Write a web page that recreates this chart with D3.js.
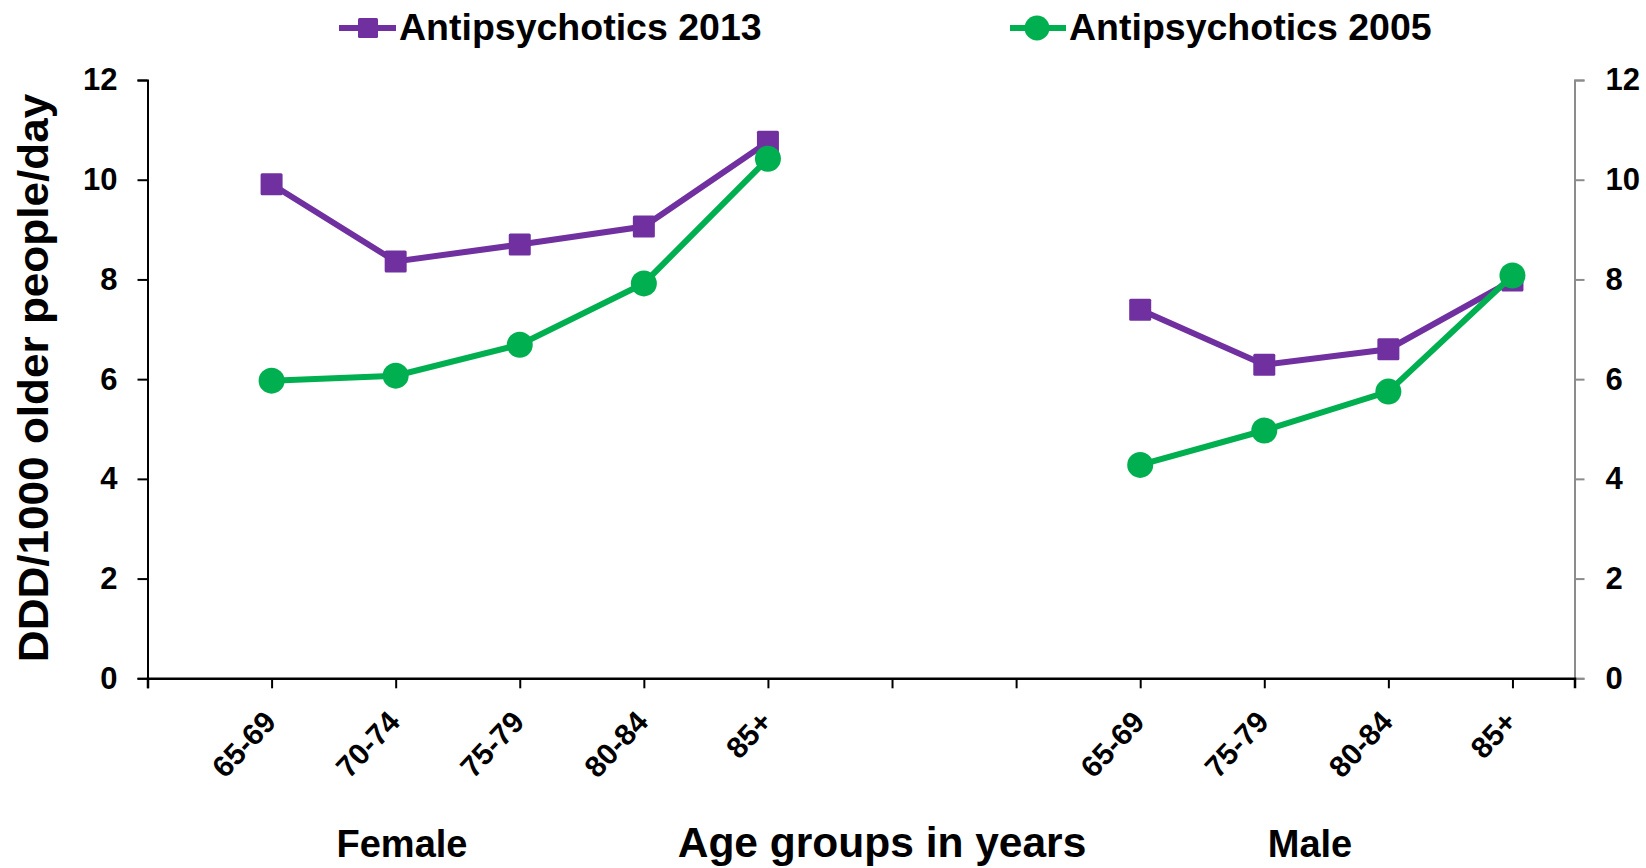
<!DOCTYPE html>
<html>
<head>
<meta charset="utf-8">
<script src="https://cdn.jsdelivr.net/npm/d3@7"></script>
<style>
  html, body { margin: 0; padding: 0; background: #fff; }
  svg { display: block; font-family: "Liberation Sans", Arial, sans-serif; font-weight: bold; }
</style>
</head>
<body>
<svg id="chart" width="1646" height="868"></svg>
<script>
// Age-group slots along the x axis; the two empty slots separate the sexes.
const categories = ["65-69", "70-74", "75-79", "80-84", "85+", "", "", "65-69", "75-79", "80-84", "85+"];
const groupLabels = ["Female", "Male"];
const seriesNames = ["Antipsychotics 2013", "Antipsychotics 2005"];
// DDD per 1000 older people per day (null = no value in that slot)
const values2013 = [9.91, 8.36, 8.70, 9.06, 10.76, null, null, 7.39, 6.29, 6.60, 7.98];
const values2005 = [5.97, 6.07, 6.69, 7.92, 10.42, null, null, 4.28, 4.97, 5.75, 8.08];
const yTicks = [0, 2, 4, 6, 8, 10, 12];

const svg = d3.select("#chart");
const purple = "#7030A0", green = "#00B050";
const FONT = "Liberation Sans, Arial, sans-serif";

const x = d3.scaleLinear().domain([0, categories.length + 0.5]).range([147.5, 1574.5]);
const y = d3.scaleLinear().domain([0, 12]).range([678.3, 80]);

function styleTicks(g, color) {
  g.selectAll(".tick text").attr("fill", "#000").attr("font-size", 31)
    .attr("font-family", FONT).attr("font-weight", "bold");
}

// Left value axis
const left = svg.append("g").attr("transform", `translate(${x(0)},0)`)
  .call(d3.axisLeft(y).tickValues(yTicks).tickSize(10).tickPadding(20).tickFormat(d3.format("d")));
left.select(".domain").attr("stroke", "#000").attr("stroke-width", 2);
left.selectAll(".tick line").attr("stroke", "#000").attr("stroke-width", 2);
styleTicks(left);

// Right value axis (same scale)
const right = svg.append("g").attr("transform", `translate(${x(categories.length + 0.5)},0)`)
  .call(d3.axisRight(y).tickValues(yTicks).tickSize(10).tickPadding(21).tickFormat(d3.format("d")));
right.select(".domain").attr("stroke", "#8c8c8c").attr("stroke-width", 2);
right.selectAll(".tick line").attr("stroke", "#8c8c8c").attr("stroke-width", 2);
styleTicks(right);

// Category axis at zero
const bottom = svg.append("g").attr("transform", `translate(0,${y(0)})`)
  .call(d3.axisBottom(x).tickValues(d3.range(0, categories.length + 1)).tickSize(10).tickFormat(""));
bottom.select(".domain").attr("stroke", "#000").attr("stroke-width", 2.5);
bottom.selectAll(".tick line").attr("stroke", "#000").attr("stroke-width", 2);

// Rotated age-group labels
svg.append("g").selectAll("text")
  .data(categories.map((c, i) => ({ c, i: i + 1 })).filter(d => d.c !== ""))
  .join("text")
  .attr("transform", d => `translate(${x(d.i) + 6},${y(0) + 45}) rotate(-47)`)
  .attr("text-anchor", "end")
  .attr("font-size", 30)
  .text(d => d.c);

// Axis titles
svg.append("text")
  .attr("transform", `translate(48,378) rotate(-90) scale(1.05,1)`)
  .attr("text-anchor", "middle")
  .attr("font-size", 42)
  .text("DDD/1000 older people/day");

svg.append("text").attr("x", 882).attr("y", 857).attr("text-anchor", "middle")
  .attr("font-size", 42.5).text("Age groups in years");
svg.append("text").attr("x", 402).attr("y", 857).attr("text-anchor", "middle")
  .attr("font-size", 38).text(groupLabels[0]);
svg.append("text").attr("x", 1310).attr("y", 857).attr("text-anchor", "middle")
  .attr("font-size", 38).text(groupLabels[1]);

// Series lines and markers
const pts = vals => vals.map((v, i) => ({ i: i + 1, v }));
const line = d3.line().defined(d => d.v != null).x(d => x(d.i)).y(d => y(d.v));

svg.append("path").datum(pts(values2013)).attr("d", line)
  .attr("fill", "none").attr("stroke", purple).attr("stroke-width", 6);
svg.append("g").selectAll("rect").data(pts(values2013).filter(d => d.v != null)).join("rect")
  .attr("x", d => x(d.i) - 11).attr("y", d => y(d.v) - 11)
  .attr("width", 22).attr("height", 22).attr("rx", 1.5).attr("fill", purple);

svg.append("path").datum(pts(values2005)).attr("d", line)
  .attr("fill", "none").attr("stroke", green).attr("stroke-width", 6);
svg.append("g").selectAll("circle").data(pts(values2005).filter(d => d.v != null)).join("circle")
  .attr("cx", d => x(d.i)).attr("cy", d => y(d.v)).attr("r", 13).attr("fill", green);

// Legend
const legend = svg.append("g");
const l1 = legend.append("g").attr("transform", "translate(339,28)");
l1.append("line").attr("x1", 0).attr("x2", 57).attr("stroke", purple).attr("stroke-width", 6);
l1.append("rect").attr("x", 19).attr("y", -10).attr("width", 20).attr("height", 20).attr("rx", 1.5).attr("fill", purple);
l1.append("text").attr("x", 60).attr("y", 12).attr("font-size", 37.5).text(seriesNames[0]);

const l2 = legend.append("g").attr("transform", "translate(1010,28)");
l2.append("line").attr("x1", 0).attr("x2", 56).attr("stroke", green).attr("stroke-width", 6);
l2.append("circle").attr("cx", 27).attr("cy", 0).attr("r", 12.5).attr("fill", green);
l2.append("text").attr("x", 59).attr("y", 12).attr("font-size", 37.5).text(seriesNames[1]);
</script>
</body>
</html>
